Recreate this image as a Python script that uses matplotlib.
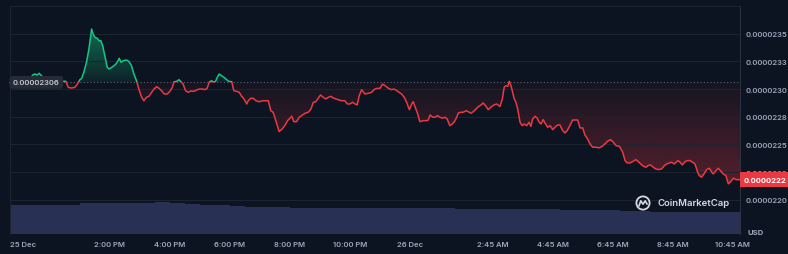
import numpy as np
import matplotlib
matplotlib.use("Agg")
import matplotlib.pyplot as plt
import matplotlib.transforms as mtransforms
from matplotlib.patches import Rectangle, PathPatch, Circle
from matplotlib.path import Path
from matplotlib.lines import Line2D
from matplotlib.colors import to_rgb

# hours counted from 25 Dec 00:00
hours = [10.67, 11.00, 11.27, 11.39, 11.42, 11.50, 11.58, 11.64, 11.72, 11.78,
         11.90, 12.07, 12.20, 12.33, 12.44, 12.53, 12.61, 12.72, 12.83, 12.92,
         13.00, 13.06, 13.13, 13.22, 13.30, 13.39, 13.44, 13.50, 13.58, 13.64,
         13.70, 13.76, 13.83, 13.91, 13.97, 14.06, 14.17, 14.24, 14.31, 14.37,
         14.44, 14.56, 14.64, 14.72, 14.80, 14.89, 14.98, 15.06, 15.13, 15.22,
         15.30, 15.39, 15.47, 15.56, 15.64, 15.72, 15.81, 15.91, 16.00, 16.08,
         16.14, 16.22, 16.30, 16.37, 16.44, 16.52, 16.61, 16.70, 16.80, 16.89,
         16.98, 17.09, 17.17, 17.24, 17.31, 17.39, 17.44, 17.52, 17.58, 17.64,
         17.72, 17.80, 17.89, 17.97, 18.06, 18.13, 18.22, 18.31, 18.39, 18.47,
         18.56, 18.61, 18.69, 18.78, 18.87, 18.98, 19.09, 19.20, 19.28, 19.36,
         19.44, 19.53, 19.64, 19.74, 19.83, 19.92, 20.00, 20.06, 20.13, 20.22,
         20.31, 20.42, 20.52, 20.61, 20.70, 20.78, 20.86, 20.94, 21.02, 21.11,
         21.19, 21.28, 21.37, 21.44, 21.53, 21.61, 21.72, 21.83, 21.91, 22.00,
         22.09, 22.17, 22.24, 22.31, 22.39, 22.50, 22.61, 22.72, 22.83, 22.92,
         23.00, 23.09, 23.17, 23.28, 23.39, 23.47, 23.56, 23.64, 23.72, 23.81,
         23.89, 23.98, 24.06, 24.11, 24.19, 24.26, 24.33, 24.44, 24.56, 24.61,
         24.67, 24.76, 24.83, 24.92, 25.00, 25.09, 25.17, 25.24, 25.33, 25.41,
         25.48, 25.56, 25.61, 25.70, 25.78, 25.87, 25.94, 26.03, 26.11, 26.20,
         26.28, 26.37, 26.44, 26.52, 26.61, 26.69, 26.80, 26.89, 27.00, 27.08,
         27.14, 27.20, 27.26, 27.31, 27.36, 27.41, 27.47, 27.53, 27.59, 27.67,
         27.74, 27.81, 27.89, 27.97, 28.03, 28.09, 28.17, 28.24, 28.31, 28.37,
         28.44, 28.52, 28.59, 28.67, 28.76, 28.83, 28.92, 29.00, 29.09, 29.17,
         29.24, 29.33, 29.42, 29.51, 29.59, 29.67, 29.76, 29.83, 29.92, 30.00,
         30.09, 30.20, 30.31, 30.41, 30.50, 30.61, 30.69, 30.78, 30.87, 30.98,
         31.09, 31.17, 31.24, 31.33, 31.42, 31.53, 31.61, 31.69, 31.78, 31.87,
         31.94, 32.02, 32.11, 32.19, 32.28, 32.39, 32.48, 32.56, 32.64, 32.72,
         32.81, 32.89, 32.94, 33.00, 33.08, 33.17, 33.24, 33.33, 33.42, 33.50,
         33.58, 33.64, 33.72, 33.80, 33.89, 33.98, 34.06, 34.11, 34.20, 34.28,
         34.37, 34.44, 34.53, 34.61, 34.69, 34.78, 34.87, 34.94, 35.00]

# price in units of 1e-8 USD
price_e8 = [2305.4, 2308.1, 2309.5, 2310.6, 2312.6, 2313.5, 2312.6, 2314.2, 2312.0, 2310.6,
            2309.0, 2306.3, 2304.5, 2303.0, 2307.0, 2307.0, 2301.5, 2300.9, 2301.5, 2304.5,
            2308.4, 2309.7, 2315.1, 2324.1, 2336.1, 2354.2, 2349.6, 2346.7, 2345.8, 2343.6,
            2343.6, 2339.1, 2330.1, 2319.6, 2318.1, 2319.6, 2321.7, 2324.1, 2327.7, 2324.1,
            2325.5, 2326.2, 2324.6, 2321.0, 2313.5, 2307.2, 2298.5, 2292.5, 2289.4, 2292.5,
            2293.4, 2297.0, 2300.0, 2302.1, 2300.6, 2298.5, 2295.5, 2295.5, 2297.9, 2301.5,
            2306.5, 2306.8, 2308.4, 2306.5, 2304.5, 2298.5, 2297.0, 2298.2, 2297.9, 2299.1,
            2300.0, 2300.0, 2299.4, 2300.6, 2306.2, 2307.5, 2306.2, 2306.8, 2310.6, 2313.5,
            2312.0, 2310.6, 2308.4, 2306.8, 2306.6, 2298.5, 2297.9, 2297.0, 2293.4, 2291.0,
            2286.5, 2289.4, 2291.6, 2291.6, 2289.4, 2288.5, 2289.4, 2289.4, 2289.4, 2280.4,
            2279.0, 2271.4, 2261.5, 2263.9, 2266.9, 2271.4, 2273.6, 2275.4, 2270.5, 2270.5,
            2274.5, 2276.5, 2278.3, 2279.0, 2282.0, 2288.0, 2288.5, 2291.6, 2294.6, 2292.5,
            2291.0, 2292.5, 2293.4, 2291.9, 2291.0, 2290.3, 2289.4, 2289.4, 2286.5, 2286.5,
            2288.0, 2286.5, 2285.6, 2294.0, 2299.4, 2295.5, 2296.1, 2297.0, 2300.0, 2300.6,
            2300.6, 2304.5, 2303.0, 2300.6, 2299.4, 2300.0, 2298.5, 2297.0, 2295.5, 2292.5,
            2288.0, 2281.3, 2286.5, 2288.5, 2282.6, 2277.4, 2270.5, 2271.4, 2271.4, 2272.0,
            2276.5, 2274.5, 2274.5, 2275.9, 2274.5, 2273.6, 2274.5, 2272.9, 2266.9, 2268.4,
            2270.5, 2274.5, 2278.3, 2279.0, 2279.0, 2280.4, 2279.5, 2278.1, 2279.5, 2282.0,
            2284.0, 2285.6, 2287.4, 2284.9, 2281.3, 2283.5, 2285.6, 2286.5, 2284.2, 2291.0,
            2301.5, 2303.0, 2302.4, 2306.8, 2303.6, 2298.5, 2291.6, 2288.0, 2282.0, 2269.9,
            2266.9, 2268.4, 2266.9, 2269.9, 2266.3, 2272.9, 2275.4, 2273.6, 2269.9, 2268.4,
            2272.3, 2268.4, 2265.4, 2266.9, 2263.3, 2265.4, 2267.5, 2267.5, 2262.4, 2260.3,
            2262.4, 2266.9, 2272.0, 2272.0, 2272.0, 2264.8, 2264.8, 2258.5, 2254.9, 2250.4,
            2247.4, 2247.4, 2246.8, 2248.3, 2250.4, 2253.3, 2254.2, 2251.9, 2248.8, 2248.3,
            2242.9, 2235.3, 2233.2, 2233.2, 2234.4, 2236.2, 2234.4, 2232.3, 2230.2, 2229.3,
            2230.8, 2231.4, 2229.3, 2227.8, 2227.2, 2227.8, 2230.8, 2232.3, 2233.2, 2233.8,
            2232.3, 2234.4, 2235.3, 2233.8, 2231.4, 2234.4, 2235.3, 2235.3, 2233.8, 2232.3,
            2225.4, 2221.8, 2220.3, 2223.3, 2227.2, 2228.4, 2224.8, 2223.3, 2226.3, 2228.4,
            2225.4, 2223.3, 2221.8, 2214.3, 2216.3, 2219.4, 2218.1, 2218.1, 2218.1]

open_e8 = 2306
open_label = "0.00002306"
last_label = "0.0000222"

# 30 min volume bars (million USD), first bar centred 10:45 on 25 Dec
volume = [2.90, 2.90, 2.90, 2.90, 2.90, 3.10, 3.10, 3.10, 3.10, 3.15,
          3.20, 3.15, 3.05, 2.95, 2.90, 2.85, 2.75, 2.70, 2.70, 2.65,
          2.60, 2.60, 2.60, 2.60, 2.60, 2.60, 2.60, 2.58, 2.57, 2.57,
          2.55, 2.55, 2.53, 2.53, 2.50, 2.50, 2.47, 2.43, 2.40, 2.40,
          2.37, 2.33, 2.27, 2.25, 2.23, 2.23, 2.20, 2.18, 2.17]

ytick_e8 = [2200, 2225, 2250, 2275, 2300, 2325, 2350]
ytick_labels = ["0.0000220", "0.0000223", "0.0000225", "0.0000228",
                "0.0000230", "0.0000233", "0.0000235"]
xtick_hours = [10.67, 14, 16, 18, 20, 22, 24, 26.75, 28.75, 30.75, 32.75, 34.75]
xtick_labels = ["25 Dec", "2:00 PM", "4:00 PM", "6:00 PM", "8:00 PM", "10:00 PM",
                "26 Dec", "2:45 AM", "4:45 AM", "6:45 AM", "8:45 AM", "10:45 AM"]

BG = "#0d1421"
GRID = "#1d2330"
GREEN = "#16c784"
RED = "#ea3943"
TXT = "#a1a7bb"
VOL = "#283154"

plt.rcParams["font.family"] = ["Inter", "DejaVu Sans"]

x = np.array(hours)
p = np.array(price_e8) * 1e-8
base = open_e8 * 1e-8
x0, x1 = 10.67, 35.0
y0, y1 = 2169e-8, 2375e-8

fig = plt.figure(figsize=(7.88, 2.55), dpi=100, facecolor=BG)
rect = [10 / 788, 20 / 255, 730 / 788, 228 / 255]

# volume underneath
axv = fig.add_axes(rect, facecolor=BG)
vt = x0 + 0.08 + 0.5 * np.arange(len(volume))
axv.bar(vt, volume, width=0.5, color=VOL, linewidth=0)
axv.set_xlim(x0, x1)
axv.set_ylim(0, 22.8)
axv.axis("off")

# price on top
ax = fig.add_axes(rect)
ax.patch.set_visible(False)


def gradient_fill(ax, x, y, base, color, a_base, a_far, above):
    if above:
        poly = ax.fill_between(x, base, y, where=y >= base, interpolate=True,
                               linewidth=0, alpha=0)
        lo, hi = base, y.max()
        alphas = np.linspace(a_base, a_far, 256)
    else:
        poly = ax.fill_between(x, y, base, where=y <= base, interpolate=True,
                               linewidth=0, alpha=0)
        lo, hi = y.min(), base
        alphas = np.linspace(a_far, a_base, 256)
    clip = PathPatch(Path.make_compound_path(*poly.get_paths()),
                     transform=ax.transData, fc="none", ec="none")
    ax.add_patch(clip)
    img = np.zeros((256, 1, 4))
    img[:, 0, :3] = to_rgb(color)
    img[:, 0, 3] = alphas
    im = ax.imshow(img, extent=(x[0], x[-1], lo, hi), origin="lower",
                   aspect="auto", zorder=1, interpolation="bilinear")
    im.set_clip_path(clip)


gradient_fill(ax, x, p, base, GREEN, 0.08, 0.5, True)
gradient_fill(ax, x, p, base, RED, 0.04, 0.32, False)

# line: green above the open price, red below
up = Rectangle((x0 - 1, base), 40, 1e-5, transform=ax.transData)
dn = Rectangle((x0 - 1, base - 1e-5), 40, 1e-5, transform=ax.transData)
lg, = ax.plot(x, p, color=GREEN, lw=1.1, zorder=3)
lg.set_clip_path(up)
lr, = ax.plot(x, p, color=RED, lw=1.1, zorder=3)
lr.set_clip_path(dn)

ax.axhline(base, color="#5c6373", lw=0.8, ls=(0, (1, 2)), zorder=2)

ax.set_xlim(x0, x1)
ax.set_ylim(y0, y1)
ax.set_yticks(np.array(ytick_e8) * 1e-8)
ax.set_yticklabels(ytick_labels)
ax.yaxis.tick_right()
ax.set_xticks(xtick_hours)
ax.set_xticklabels(xtick_labels)
ax.get_xticklabels()[0].set_ha("left")
ax.grid(axis="y", color=GRID, lw=0.8)
ax.tick_params(length=0, labelsize=5.5, colors=TXT)
ax.tick_params(axis="y", pad=4)
ax.tick_params(axis="x", pad=5)
for lab in ax.get_xticklabels() + ax.get_yticklabels():
    lab.set_fontweight("semibold")
for s in ["top", "left"]:
    ax.spines[s].set_color(GRID)
ax.spines["right"].set_color("#2a3140")
ax.spines["bottom"].set_visible(False)

# price tags
bl = mtransforms.blended_transform_factory(ax.transAxes, ax.transData)
ax.text(3 / 730, base, open_label, transform=bl, ha="left", va="center",
        fontsize=5.5, fontweight="semibold", color="#c6cad4", zorder=5,
        bbox=dict(boxstyle="round,pad=0.45,rounding_size=0.4", fc="#262b38", ec="none"))
ax.text(1 + 4 / 730, p[-1], last_label, transform=bl, ha="left", va="center",
        fontsize=5.5, fontweight="bold", color="white", zorder=5, clip_on=False,
        bbox=dict(boxstyle="square,pad=0.55", fc=RED, ec="none"))

fig.text(748 / 788, 1 - 233 / 255, "USD", fontsize=5.5, fontweight="bold",
         color=TXT, va="center")

# watermark
fig.text(657 / 788, 1 - 204 / 255, "CoinMarketCap", fontsize=6.9,
         fontweight="semibold", color="#d6d9e0", va="center")
cx, cy = 6.43, (255 - 204) / 100
fig.patches.append(Circle((cx, cy), 0.066, transform=fig.dpi_scale_trans,
                          fc="none", ec="#d6d9e0", lw=1.3))
mx = np.array([-0.04, -0.022, 0.0, 0.022, 0.04])
my = np.array([-0.028, 0.022, -0.012, 0.022, -0.01])
fig.lines.append(Line2D(cx + mx, cy + my, transform=fig.dpi_scale_trans,
                        color="#d6d9e0", lw=1.2))

fig.savefig("out.png", dpi=100, facecolor=BG)
